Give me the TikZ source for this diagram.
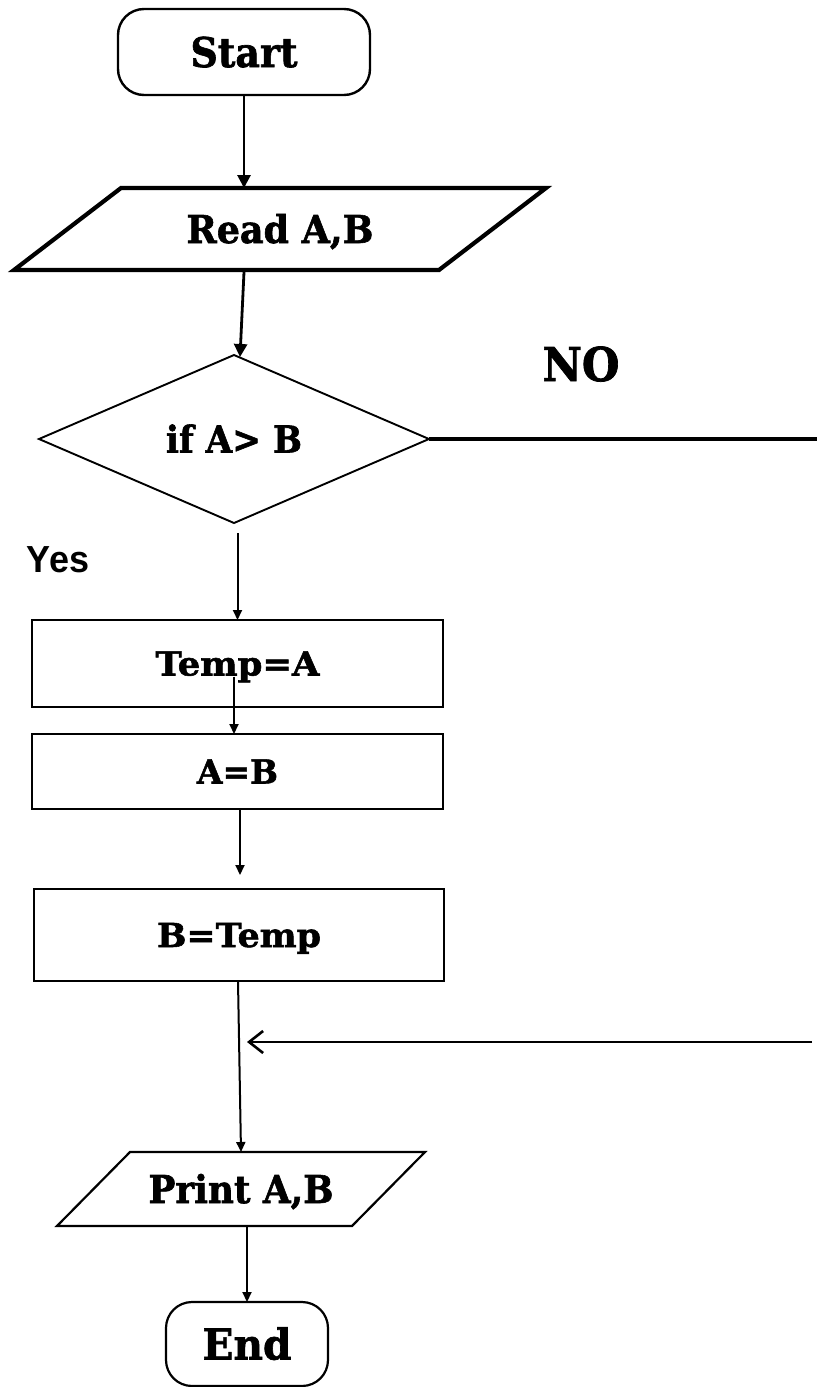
\documentclass[tikz,border=0pt]{standalone}
\usepackage{fontspec}
\usepackage{graphicx}
\usetikzlibrary{shapes.geometric,arrows.meta}
\newfontfamily\slabfont[FakeBold=1.6]{DejaVu Serif Bold}
\newfontfamily\yesfont{Liberation Sans}
\newcommand\fitt[3]{\resizebox{#1pt}{\height}{\fontsize{#2}{#2}\selectfont #3}}
\begin{document}
\begin{tikzpicture}[x=1pt,y=-1pt,
  every node/.style={inner sep=0pt, outer sep=0pt, text depth=0pt},
  lbl/.style={font=\slabfont},
  term/.style={lbl, draw, line width=2.4pt, rectangle, rounded corners=26pt},
  proc/.style={lbl, draw, line width=2.2pt, rectangle},
  io/.style={lbl, rectangle},
  decis/.style={lbl, draw, line width=1.9pt, diamond},
  arr/.style={line width=2pt, -{Triangle[length=10pt,width=9pt]}},
  thickarr/.style={line width=2.8pt, -{Triangle[length=13pt,width=13pt]}}
]
\useasboundingbox (0,0) rectangle (817,1387);

% shapes
\node[term, minimum width=252pt, minimum height=86pt, text height=30pt] (start) at (244,52) {\fitt{107}{41}{Start}};

\node[io, minimum width=425pt, minimum height=82pt, text height=28pt] (read) at (280,229) {\fitt{187}{38.4}{Read A,B}};
\draw[line width=4.2pt] ([xshift=53.5pt]read.north west) -- ([xshift=53.5pt]read.north east) -- ([xshift=-53.5pt]read.south east) -- ([xshift=-53.5pt]read.south west) -- cycle;

\node[decis, minimum width=390pt, minimum height=168pt, text height=27pt] (dec) at (234,439) {\fitt{136}{37}{if A> B}};

\node[lbl, text height=34pt] (no) at (581,364) {\fitt{77}{46.6}{NO}};
\node[font=\yesfont\bfseries, text height=27pt] (yes) at (58,559) {\fitt{62}{37.7}{Yes}};

\node[proc, minimum width=411pt, minimum height=87pt, text height=24pt] (temp) at (237.5,663.5) {\fitt{164}{33}{Temp=A}};
\node[proc, minimum width=411pt, minimum height=75pt, text height=24pt] (ab) at (237.5,771.5) {\fitt{81}{33}{A=B}};
\node[proc, minimum width=410pt, minimum height=92pt, text height=24pt] (btemp) at (239,935) {\fitt{164}{33}{B=Temp}};

\node[io, minimum width=295pt, minimum height=74pt, text height=28pt] (print) at (241,1189) {\fitt{185}{38.4}{Print A,B}};
\draw[line width=2.2pt] ([xshift=36.5pt]print.north west) -- ([xshift=36.5pt]print.north east) -- ([xshift=-36.5pt]print.south east) -- ([xshift=-36.5pt]print.south west) -- cycle;

\node[term, line width=2.2pt, minimum width=162pt, minimum height=84pt, text height=31pt] (end) at (247,1344) {\fitt{89}{42.5}{End}};

% connectors
\coordinate (noend) at (817,439);
\coordinate (retstart) at (812,1042);
\coordinate (retend) at (247,1042);

\draw[thickarr] (start.south) -- (start.south |- read.north);
\draw[thickarr] ([yshift=-2pt]start.south |- read.south) -- ([xshift=6pt,yshift=-2pt]dec.north);
\draw[line width=3.5pt] (dec.east) -- (noend);
\draw[arr] ([yshift=-10pt]dec.south -| temp.north) -- (temp.north);
\draw[arr] ([xshift=-3.5pt,yshift=-13pt]temp.center) -- ([xshift=-3.5pt]ab.north);
\draw[arr] ([xshift=2.5pt]ab.south) -- ([xshift=1pt,yshift=14pt]btemp.north);
\draw[arr] ([xshift=-1pt]btemp.south) -- (print.north);
\draw[line width=2.6pt, -{Straight Barb[length=14pt,width=22pt]}] (retstart) -- (retend);
\draw[arr] (end.north |- print.south) -- (end.north);
\end{tikzpicture}
\end{document}
